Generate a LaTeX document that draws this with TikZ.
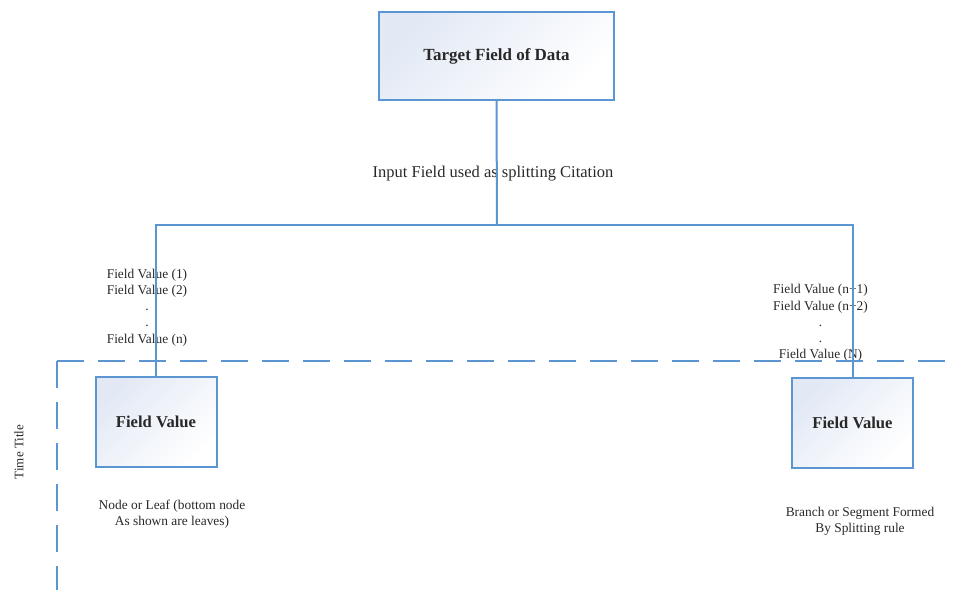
\documentclass[tikz,border=0pt]{standalone}
\usepackage{fontspec}
\setmainfont{Liberation Serif}
\definecolor{lineblue}{RGB}{92,150,210}
\definecolor{boxtint}{RGB}{226,233,245}
\definecolor{txt}{RGB}{40,40,40}
\tikzset{
  fvbox/.style={draw=lineblue, line width=2pt, top color=boxtint, bottom color=white, shading angle=45,
    inner sep=0pt, text=txt, font=\bfseries\fontsize{16.6}{19}\selectfont},
  conn/.style={draw=lineblue, line width=2pt},
  frame/.style={draw=lineblue, line width=2pt, dash pattern=on 27pt off 14pt},
  lbl/.style={text=txt, inner sep=0pt, align=center, font=\fontsize{13.4}{16.2}\selectfont},
}
\begin{document}
\begin{tikzpicture}[x=1pt,y=-1pt]
\useasboundingbox (0,0) rectangle (958,590);
\node[fvbox, minimum width=235pt, minimum height=88pt, font=\bfseries\fontsize{17}{20}\selectfont] (top) at (496.5,56) {Target Field of Data};
\node[fvbox, minimum width=121pt, minimum height=90pt] (L) at (156,422) {Field Value};
\node[fvbox, minimum width=121pt, minimum height=90pt] (R) at (852.5,422.5) {Field Value};
\coordinate (j) at (497,225);
\node[lbl, font=\fontsize{16.5}{19}\selectfont] (split) at (493,174) {Input Field used as splitting Citation};
\node[lbl] (lv) at (147,307.5) {Field Value (1)\\Field Value (2)\\.\\.\\Field Value (n)};
\node[lbl] (rv) at (820.5,323) {Field Value (n+1)\\Field Value (n+2)\\.\\.\\Field Value (N)};
\node[lbl] (leaf) at (172,514) {Node or Leaf (bottom node\\As shown are leaves)};
\node[lbl] (branch) at (860,521) {Branch or Segment Formed\\By Splitting rule};
\node[lbl, rotate=90, font=\fontsize{13}{15}\selectfont] (time) at (19,452) {Time Title};
\draw[conn] (top.south) -- (j);
\draw[conn] (L.north) -- (L.north |- j) -- (R.north |- j) -- (R.north);
\coordinate (fc) at (57,361);
\coordinate (fr) at (958,361);
\coordinate (fb) at (57,590);
\draw[frame] (fc) -- (fr);
\draw[frame] (fc) -- (fb);
\end{tikzpicture}
\end{document}
